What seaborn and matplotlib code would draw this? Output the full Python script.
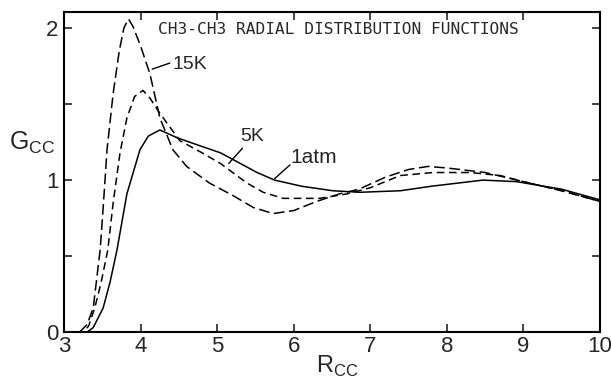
import pandas as pd
import matplotlib
matplotlib.use("Agg")
import matplotlib.pyplot as plt
import seaborn as sns

# values
r_15k = [3.0, 3.2, 3.3, 3.38, 3.47, 3.51, 3.56, 3.64, 3.72, 3.78, 3.84, 3.9, 4.0, 4.12,
         4.25, 4.42, 4.6, 4.9, 5.2, 5.47, 5.73, 6.0, 6.3, 6.6, 6.85, 7.2, 7.5, 7.75,
         8.0, 8.5, 9.0, 9.5, 10.0]
g_15k = [0.0, 0.0, 0.05, 0.16, 0.54, 0.82, 1.2, 1.57, 1.85, 2.0, 2.06, 2.01, 1.88, 1.70,
         1.41, 1.20, 1.09, 0.98, 0.90, 0.82, 0.78, 0.80, 0.86, 0.91, 0.94, 1.02, 1.07, 1.09,
         1.08, 1.05, 0.99, 0.93, 0.86]

r_5k = [3.0, 3.25, 3.32, 3.4, 3.48, 3.57, 3.64, 3.73, 3.82, 3.92, 4.03, 4.12, 4.25, 4.51,
        4.8, 5.04, 5.39, 5.6, 5.86, 6.34, 6.7, 7.0, 7.39, 7.82, 8.3, 8.7, 9.0, 9.5, 10.0]
g_5k = [0.0, 0.0, 0.04, 0.16, 0.32, 0.54, 0.85, 1.18, 1.41, 1.55, 1.59, 1.54, 1.44, 1.26,
        1.18, 1.11, 0.98, 0.92, 0.88, 0.88, 0.91, 0.95, 1.03, 1.05, 1.05, 1.03, 0.99, 0.93, 0.86]

r_1atm = [3.0, 3.3, 3.38, 3.51, 3.6, 3.69, 3.82, 3.99, 4.1, 4.25, 4.47, 4.75, 5.04, 5.3,
          5.52, 5.75, 6.1, 6.51, 6.86, 7.39, 7.8, 8.47, 8.91, 9.5, 10.0]
g_1atm = [0.0, 0.0, 0.03, 0.16, 0.33, 0.54, 0.91, 1.2, 1.29, 1.33, 1.28, 1.23, 1.18, 1.11,
          1.05, 1.0, 0.96, 0.93, 0.92, 0.93, 0.96, 1.0, 0.99, 0.94, 0.87]

sns.set_style("ticks")
plt.rcParams["font.family"] = ["Liberation Sans", "DejaVu Sans"]

fig = plt.figure(figsize=(6.11, 3.8), dpi=100)
ax = fig.add_axes([0.105, 0.126, 0.877, 0.842])

df = pd.concat([
    pd.DataFrame({"R": r_15k, "G": g_15k, "run": "15K"}),
    pd.DataFrame({"R": r_5k, "G": g_5k, "run": "5K"}),
    pd.DataFrame({"R": r_1atm, "G": g_1atm, "run": "1atm"}),
])

sns.lineplot(data=df, x="R", y="G", style="run", color="black",
             dashes={"15K": (7, 3), "5K": (5, 3), "1atm": ""},
             linewidth=1.1, sort=False, legend=False, ax=ax)

ax.set_xlim(3, 10)
ax.set_ylim(0, 2.105)
ax.set_xticks(range(3, 11))
ax.set_yticks([0, 0.5, 1, 1.5, 2])
ax.set_yticklabels(["0", "", "1", "", "2"])
ax.tick_params(direction="in", length=6, width=1.2, top=True, right=True,
               labelsize=16)
ax.tick_params(axis="x", pad=3)
ax.tick_params(axis="y", pad=4)
for s in ax.spines.values():
    s.set_linewidth(1.5)
    s.set_color("black")

ax.set_xlabel("")
ax.set_ylabel("")
fig.text(0.518, 0.02, r"R$_{\mathregular{CC}}$", fontsize=17, ha="left")
fig.text(0.015, 0.605, r"G$_{\mathregular{CC}}$", fontsize=18, ha="left")

ax.text(0.175, 0.968, "CH3-CH3 RADIAL DISTRIBUTION FUNCTIONS", transform=ax.transAxes,
        fontsize=11.6, family="DejaVu Sans Mono", va="top", ha="left")

# curve labels with leader lines
ax.text(4.42, 1.76, "15K", fontsize=14, va="center")
ax.plot([4.15, 4.38], [1.73, 1.77], color="black", lw=1)
ax.text(5.3, 1.29, "5K", fontsize=14, va="center")
ax.plot([5.15, 5.33], [1.11, 1.21], color="black", lw=1)
ax.text(5.95, 1.15, "1atm", fontsize=15, va="center")
ax.plot([5.75, 5.95], [1.01, 1.10], color="black", lw=1)

fig.savefig("out.png", dpi=100)
